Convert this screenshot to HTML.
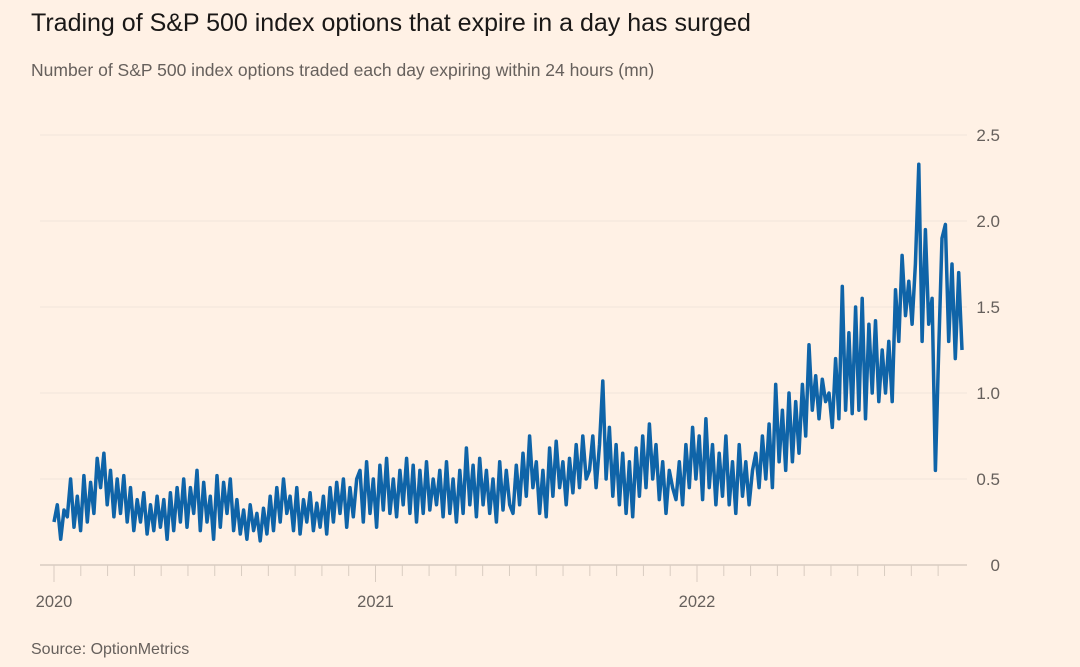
<!DOCTYPE html>
<html><head><meta charset="utf-8"><style>
body{margin:0;background:#fff1e5;}
#wrap{position:relative;width:1080px;height:667px;background:#fff1e5;font-family:"Liberation Sans",sans-serif;overflow:hidden}
#title{position:absolute;left:31px;top:9px;font-size:25px;color:#1a1817;}
#sub{position:absolute;left:31px;top:60px;font-size:17.5px;color:#66605c;}
#src{position:absolute;left:31px;top:641px;font-size:16px;color:#66605c;}
svg{position:absolute;left:0;top:0}
</style></head><body>
<div id="wrap">
<div id="title">Trading of S&amp;P 500 index options that expire in a day has surged</div>
<div id="sub">Number of S&amp;P 500 index options traded each day expiring within 24 hours (mn)</div>
<svg id="chart" width="1080" height="667"></svg>
<div id="src">Source: OptionMetrics</div>
</div>
<script>
const yTicks=[0,0.5,1.0,1.5,2.0,2.5];
const yTickLabels=["0","0.5","1.0","1.5","2.0","2.5"];
const yearLabels=["2020","2021","2022"];
const monthCount=34;
const values=[
.25,.35,.15,.32,.28,.5,.22,.4,.2,.52,.25,.48,.3,
.62,.45,.65,.35,.55,.28,.5,.3,.52,.25,
.45,.2,.38,.25,.42,.18,.35,.2,.4,.22,.38,.15,.42,.2,.45,.25,
.5,.22,.45,.3,.55,.2,.48,.25,.4,.15,.52,.22,.48,.3,.5,.2,
.38,.18,.32,.15,.35,.2,.3,.14,.33,.18,.4,.2,.45,.25,.5,.3,
.4,.2,.45,.18,.38,.25,.42,.2,.36,.22,.4,.18,.45,.25,.48,.3,.5,.22,.45,.28,.5,
.55,.25,.6,.3,.5,.22,.58,.32,.62,.3,.5,.28,.55,.35,.62,.3,.58,.25,.55,.3,.6,.32,.5,
.35,.55,.28,.6,.3,.5,.25,.55,.3,.68,.35,.58,.28,.62,.35,.55,.3,.5,.25,.6,.32,.55,.35,
.3,.58,.35,.65,.4,.75,.45,.6,.3,.55,.28,.68,.4,.72,.45,.6,.35,.62,.42,.7,.45,.75,.5,.55,.75,.45,.7,
1.07,.5,.8,.4,.7,.35,.65,.3,.6,.28,.68,.4,.75,.45,.82,.5,.7,.38,.6,.3,.55,.45,.38,
.6,.35,.7,.45,.8,.5,.75,.38,.85,.45,.7,.35,.65,.4,.75,.35,.6,.3,.7,.4,.6,.35,.55,
.65,.45,.75,.5,.82,.45,1.05,.6,.9,.55,1.0,.6,.95,.65,1.05,.75,1.28,.9,1.1,.85,1.08,.95,1.0,
.8,1.2,.85,1.62,.9,1.35,.88,1.5,.9,1.55,.85,1.4,1.0,1.42,.95,1.25,1.0,1.3,.95,1.6,1.3,1.8,1.45,1.65,1.4,1.75,
2.33,1.3,1.95,1.4,1.55,.55,1.25,1.9,1.98,1.3,1.75,1.2,1.7,1.25
];
const NS="http://www.w3.org/2000/svg";
const svg=document.getElementById('chart');
const X0=54, YEARPX=321.5, XEND=962, Y0=565, YPX=172;
const yS=v=>Y0-v*YPX;
const monthX=m=>X0+m*YEARPX/12;
const idxX=i=>X0+i*(XEND-X0)/(values.length-1);
function mk(t,a){const e=document.createElementNS(NS,t);for(const k in a)e.setAttribute(k,a[k]);svg.appendChild(e);return e;}
yTicks.forEach((t,i)=>{
  const l=mk('line',{x1:40,x2:967,y1:yS(t),y2:yS(t),stroke:t===0?'#d9ccc1':'#f2e5da','stroke-width':t===0?1.5:1});
  
  
  const tx=mk('text',{x:1000,y:yS(t)+6,'text-anchor':'end','font-size':17,fill:'#66605c','font-family':'Liberation Sans, sans-serif'});
  tx.textContent=yTickLabels[i];
  
  
});
for(let m=0;m<monthCount;m++){
  const yr=m%12===0;
  const l=mk('line',{x1:monthX(m),x2:monthX(m),y1:Y0,y2:Y0+(yr?17:11),stroke:'#d9ccc1','stroke-width':1});
  
  
  if(yr){
    const tx=mk('text',{x:monthX(m),y:607,'text-anchor':'middle','font-size':16.5,fill:'#66605c','font-family':'Liberation Sans, sans-serif'});
    tx.textContent=yearLabels[m/12];
    
    
  }
}
const d=values.map((v,i)=>(i?'L':'M')+idxX(i).toFixed(1)+','+yS(v).toFixed(1)).join('');
const p=mk('path',{d:d,fill:'none',stroke:'#0f64a8','stroke-width':3.5,'stroke-linejoin':'round'});


</script>
</body></html>
